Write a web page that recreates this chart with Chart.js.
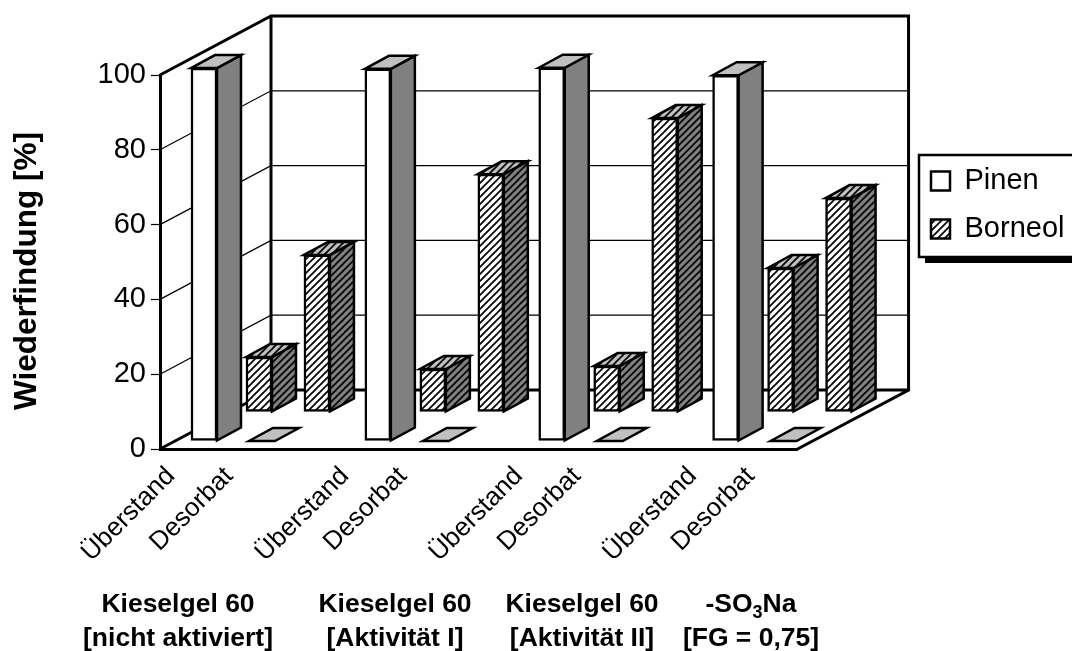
<!DOCTYPE html>
<html>
<head>
<meta charset="utf-8">
<title>Wiederfindung</title>
<script src="https://cdn.jsdelivr.net/npm/chart.js@4"></script>
<style>
  html, body { margin: 0; padding: 0; background: #fff; overflow: hidden; }
  canvas { display: block; }
</style>
</head>
<body>
<canvas id="chart" width="1072" height="651"></canvas>
<script>
// Werte
const categories = ['Überstand', 'Desorbat', '', 'Überstand', 'Desorbat', '', 'Überstand', 'Desorbat', '', 'Überstand', 'Desorbat'];
const pinen = [99.7, 0, null, 99.5, 0, null, 99.8, 0, null, 97.8, 0];
const borneol = [14.7, 42, null, 11.5, 63.6, null, 12.3, 78.6, null, 38.5, 57.2];
const groupLines1 = ['Kieselgel 60', 'Kieselgel 60', 'Kieselgel 60', '-SO₃Na'];
const groupLines2 = ['[nicht aktiviert]', '[Aktivität I]', '[Aktivität II]', '[FG = 0,75]'];
const groupCenters = [178, 395, 582, 751];

const font = 'Liberation Sans, Arial, sans-serif';

// Schraffur fuer Borneol
function hatch(bg, fg) {
    const s = 7;
    const c = document.createElement('canvas');
    c.width = c.height = s;
    const g = c.getContext('2d');
    g.fillStyle = bg;
    g.fillRect(0, 0, s, s);
    g.strokeStyle = fg;
    g.lineWidth = 1.7;
    [[-1, s + 1, s + 1, -1], [-s, s, s, -s], [0, 2 * s, 2 * s, 0]].forEach(l => {
        g.beginPath();
        g.moveTo(l[0], l[1]);
        g.lineTo(l[2], l[3]);
        g.stroke();
    });
    return g.createPattern(c, 'repeat');
}
const ctxMain = document.getElementById('chart').getContext('2d');
const hatchFront = hatch('#ffffff', '#000000');
const hatchSide = hatch('#808080', '#000000');
const hatchTop = hatch('#c0c0c0', '#000000');

// Versatz der Reihen im Raum und Tiefe der Saeulen
const wall = { dx: 111, dy: 59 };
const rows = [{ dx: 15, dy: 8, side: '#808080', top: '#c0c0c0' }, { dx: 70, dy: 37, side: hatchSide, top: hatchTop }];
const depth = { dx: 24, dy: 13 };

function poly(ctx, pts, fill) {
    ctx.beginPath();
    pts.forEach((p, i) => i ? ctx.lineTo(p[0], p[1]) : ctx.moveTo(p[0], p[1]));
    ctx.closePath();
    if (fill) {
        ctx.fillStyle = fill;
        ctx.fill();
    }
    ctx.stroke();
}

// Text zentriert, die tiefgestellte 3 kleiner und nach unten versetzt
function drawGroupLine(ctx, text, cx, y) {
    if (!text.includes('₃')) {
        ctx.textAlign = 'center';
        ctx.fillText(text, cx, y);
        return;
    }
    const [a, b] = text.split('₃');
    const big = 'bold 26.5px ' + font, small = 'bold 18px ' + font;
    ctx.textAlign = 'left';
    ctx.font = small;
    const w3 = ctx.measureText('3').width;
    ctx.font = big;
    const wa = ctx.measureText(a).width, wb = ctx.measureText(b).width;
    let x = cx - (wa + w3 + wb) / 2;
    ctx.fillText(a, x, y);
    x += wa;
    ctx.font = small;
    ctx.fillText('3', x, y + 6);
    x += w3;
    ctx.font = big;
    ctx.fillText(b, x, y);
}

const plot3d = {
    id: 'plot3d',
    afterLayout(chart) {
        // Legende in ihren Kasten schieben
        const l = chart.legend;
        const w = l.width, h = l.height;
        l.left = 912; l.right = l.left + w;
        l.top = 147.5; l.bottom = l.top + h;
    },
    beforeDraw(chart) {
        const { ctx, scales: { x, y } } = chart;
        const a = chart.chartArea;
        ctx.save();
        ctx.strokeStyle = '#000';
        // Legendenkasten mit Schatten
        ctx.fillStyle = '#000';
        ctx.fillRect(925, 162, 160, 101);
        ctx.lineWidth = 2.5;
        ctx.fillStyle = '#fff';
        ctx.fillRect(919, 155, 170, 102);
        ctx.strokeRect(919, 155, 170, 102);
        // Gitterlinien
        ctx.lineWidth = 1.2;
        y.ticks.forEach(t => {
            const py = y.getPixelForValue(t.value);
            ctx.beginPath();
            ctx.moveTo(a.left, py);
            ctx.lineTo(a.left + wall.dx, py - wall.dy);
            ctx.lineTo(a.right + wall.dx, py - wall.dy);
            ctx.stroke();
        });
        // Waende und Boden
        ctx.lineWidth = 3;
        const top = y.getPixelForValue(100), bot = y.getPixelForValue(0);
        ctx.beginPath();
        ctx.moveTo(a.left, top);
        ctx.lineTo(a.left + wall.dx, top - wall.dy);
        ctx.lineTo(a.right + wall.dx, top - wall.dy);
        ctx.lineTo(a.right + wall.dx, bot - wall.dy);
        ctx.lineTo(a.right, bot);
        ctx.moveTo(a.left + wall.dx, top - wall.dy);
        ctx.lineTo(a.left + wall.dx, bot - wall.dy);
        ctx.lineTo(a.right + wall.dx, bot - wall.dy);
        ctx.moveTo(a.left, bot);
        ctx.lineTo(a.left + wall.dx, bot - wall.dy);
        ctx.stroke();
        ctx.restore();
    },
    beforeDatasetDraw(chart, args) {
        const r = rows[args.index];
        chart.ctx.save();
        chart.ctx.translate(r.dx, -r.dy);
    },
    afterDatasetDraw(chart, args) {
        const ctx = chart.ctx;
        const r = rows[args.index];
        const meta = args.meta;
        const data = chart.data.datasets[args.index].data;
        ctx.strokeStyle = '#000';
        ctx.lineWidth = 2.5;
        ctx.lineJoin = 'miter';
        meta.data.forEach((bar, i) => {
            if (data[i] === null) return;
            const p = bar.getProps(['x', 'y', 'base', 'width'], true);
            const l = p.x - p.width / 2, rgt = p.x + p.width / 2;
            if (p.base - p.y > 1) {
                poly(ctx, [[rgt, p.y], [rgt + depth.dx, p.y - depth.dy], [rgt + depth.dx, p.base - depth.dy], [rgt, p.base]], r.side);
            }
            poly(ctx, [[l, p.y], [l + depth.dx, p.y - depth.dy], [rgt + depth.dx, p.y - depth.dy], [rgt, p.y]], r.top);
        });
        ctx.restore();
    },
    afterDraw(chart) {
        const ctx = chart.ctx;
        ctx.save();
        ctx.fillStyle = '#000';
        ctx.textBaseline = 'alphabetic';
        groupCenters.forEach((cx, i) => {
            ctx.font = 'bold 26.5px ' + font;
            drawGroupLine(ctx, groupLines1[i], cx, 612);
            ctx.font = 'bold 26.5px ' + font;
            drawGroupLine(ctx, groupLines2[i], cx, 646);
        });
        // Achsentitel
        ctx.translate(36, 271);
        ctx.rotate(-Math.PI / 2);
        ctx.textAlign = 'center';
        ctx.font = 'bold 31.5px ' + font;
        ctx.fillText('Wiederfindung [%]', 0, 0);
        ctx.restore();
    }
};

new Chart(ctxMain, {
    type: 'bar',
    plugins: [plot3d],
    data: {
        labels: categories,
        datasets: [
            { label: 'Pinen', data: pinen, backgroundColor: '#ffffff', borderColor: '#000', borderWidth: 2.5, borderSkipped: false, clip: false },
            { label: 'Borneol', data: borneol, backgroundColor: hatchFront, borderColor: '#000', borderWidth: 2.5, borderSkipped: false, clip: false }
        ]
    },
    options: {
        responsive: false,
        animation: false,
        events: [],
        layout: { padding: { top: 75, right: 112, left: 0, bottom: 0 } },
        datasets: { bar: { grouped: false, barThickness: 26 } },
        plugins: {
            tooltip: { enabled: false },
            legend: {
                position: 'right',
                align: 'start',
                labels: { boxWidth: 19, boxHeight: 19, padding: 19, color: '#000', font: { family: font, size: 29 } }
            }
        },
        scales: {
            x: {
                afterFit: s => { s.height = 202; },
                grid: { display: false },
                border: { display: true, color: '#000', width: 3 },
                ticks: {
                    autoSkip: false,
                    maxRotation: 45,
                    minRotation: 45,
                    padding: 4,
                    labelOffset: -18,
                    color: '#000',
                    font: { family: font, size: 26 }
                }
            },
            y: {
                min: 0,
                max: 100,
                afterFit: s => { s.width = 160; },
                grid: { drawOnChartArea: false, color: '#000', tickLength: 9, tickWidth: 1.2 },
                border: { display: true, color: '#000', width: 3 },
                ticks: { stepSize: 20, padding: 5, color: '#000', font: { family: font, size: 29 } }
            }
        }
    }
});
</script>
</body>
</html>
